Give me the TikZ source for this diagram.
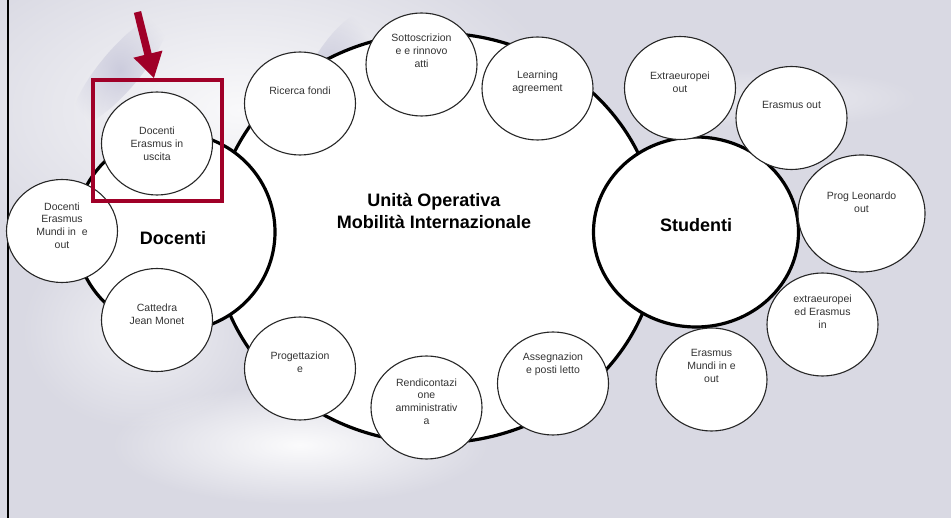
\documentclass[tikz,border=0pt]{standalone}
\usepackage{fontspec}
\setmainfont{Liberation Sans}
\usetikzlibrary{shapes.geometric,fadings,arrows.meta}
\definecolor{bgcol}{HTML}{D9D9E3}
\definecolor{strokecol}{HTML}{C4C4D8}
\definecolor{boxred}{RGB}{160,0,40}
\definecolor{txtgray}{HTML}{333333}
\tikzfading[name=softfade, inner color=transparent!0, outer color=transparent!100]
\tikzset{
  bigshape/.style={ellipse, draw=black, line width=3.2pt, fill=white, inner sep=0pt},
  bubble/.style={ellipse, draw=black!85, line width=1.1pt, fill=white, inner sep=0pt,
    minimum width=111pt, minimum height=103pt},
  btext/.style={align=center, text=txtgray, font=\fontsize{10.5}{12.8}\selectfont, inner sep=0pt},
  bigtext/.style={align=center, font=\fontsize{18}{22}\selectfont\bfseries, inner sep=0pt},
  softblob/.style={fill=white, path fading=softfade},
  softdark/.style={fill=strokecol, path fading=softfade}
}
\begin{document}
\begin{tikzpicture}[x=1pt,y=-1pt]
\useasboundingbox (0,0) rectangle (951,518);
% background
\fill[bgcol] (0,0) rectangle (951,518);
\fill[softblob, opacity=0.85] (240,110) ellipse [x radius=330, y radius=180];
\fill[softblob, opacity=0.9] (300,445) ellipse [x radius=190, y radius=60];
\fill[softblob, opacity=0.6] (140,330) ellipse [x radius=120, y radius=100];
\fill[softblob, opacity=0.5] (770,98) ellipse [x radius=150, y radius=30];
\fill[softdark, opacity=0.9, rotate around={60:(330,75)}] (330,75) ellipse [x radius=70, y radius=22];
\fill[softdark, opacity=0.8, rotate around={50:(120,70)}] (120,70) ellipse [x radius=70, y radius=20];
\fill[softdark, opacity=0.8, rotate around={60:(540,130)}] (540,130) ellipse [x radius=80, y radius=22];
% left border
\draw[line width=2pt] (8,0) -- (8,518);

% main shapes
\node[bigshape, minimum width=444pt, minimum height=410pt] (uo) at (436,238) {};
\node[bigshape, minimum width=200pt, minimum height=198pt] (doc) at (175,232) {};
\node[bigshape, minimum width=205pt, minimum height=190pt] (stu) at (696,232) {};

\node[bigtext] at (434,211) {Unità Operativa\\Mobilità Internazionale};
\node[bigtext] at (173,238) {Docenti};
\node[bigtext] at (696,225) {Studenti};

% bubbles
\node[bubble] (deu) at (157,143.5) {};
\node[btext] at ([yshift=0pt]deu.center) {Docenti\\Erasmus in\\uscita};
\node[bubble] (dmu) at (62,231) {};
\node[btext] at ([yshift=5.5pt]dmu.center) {Docenti\\Erasmus\\Mundi in\ \ e\\out};
\node[bubble] (cjm) at (157,320) {};
\node[btext] at ([yshift=6pt]cjm.center) {Cattedra\\Jean Monet};
\node[bubble] (rf) at (300,103.5) {};
\node[btext] at ([yshift=12.5pt]rf.center) {Ricerca fondi};
\node[bubble] (sra) at (421.5,64.5) {};
\node[btext] at ([yshift=13.5pt]sra.center) {Sottoscrizion\\e e rinnovo\\atti};
\node[bubble] (la) at (537.5,88.5) {};
\node[btext] at ([yshift=6pt]la.center) {Learning\\agreement};
\node[bubble] (prog) at (300,368.5) {};
\node[btext] at ([yshift=6pt]prog.center) {Progettazion\\e};
\node[bubble] (rend) at (426.5,407.5) {};
\node[btext] at ([yshift=6pt]rend.center) {Rendicontazi\\one\\amministrativ\\a};
\node[bubble] (apl) at (553,383.5) {};
\node[btext] at ([yshift=19pt]apl.center) {Assegnazion\\e posti letto};
\node[bubble] (eeo) at (680,88) {};
\node[btext] at ([yshift=5.5pt]eeo.center) {Extraeuropei\\out};
\node[bubble] (eo) at (791.5,118) {};
\node[btext] at ([yshift=13pt]eo.center) {Erasmus out};
\node[bubble, minimum width=127pt, minimum height=117pt] (plo) at (861.5,213.5) {};
\node[btext] at ([yshift=11.5pt]plo.center) {Prog Leonardo\\out};
\node[bubble] (eei) at (822.5,324.5) {};
\node[btext] at ([yshift=13pt]eei.center) {extraeuropei\\ed Erasmus\\in};
\node[bubble] (emu) at (711.5,379.5) {};
\node[btext] at ([yshift=13.5pt]emu.center) {Erasmus\\Mundi in e\\out};

% highlight box and arrow
\node[draw=boxred, line width=3.2pt, minimum width=129pt, minimum height=121pt, inner sep=0pt] (hbox) at (157.5,140.5) {};
\coordinate (arrstart) at (137.5,12);
\draw[boxred, line width=7.5pt, -{Triangle[length=25pt, width=28pt]}] (arrstart) -- (hbox.north -| 154,0);
\end{tikzpicture}
\end{document}
